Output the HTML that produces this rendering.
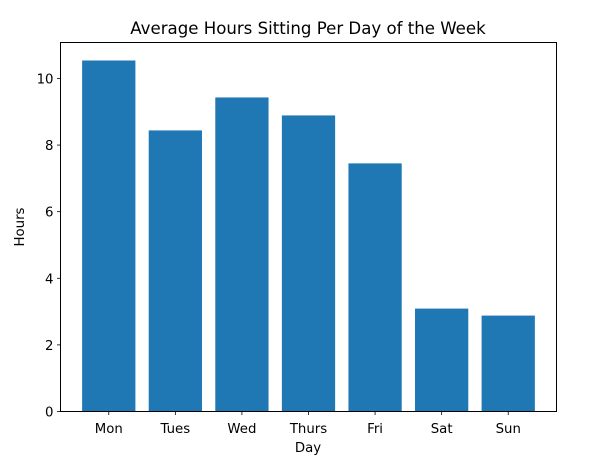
<!DOCTYPE html>
<html><head><meta charset="utf-8"><style>
html,body{margin:0;padding:0;background:#fff;}
svg text{font-family:"DejaVu Sans","Liberation Sans",sans-serif;fill:#000;}
</style></head><body>
<svg id="chart" width="594" height="466" xmlns="http://www.w3.org/2000/svg">
<text x="308" y="34" font-size="16.6" text-anchor="middle">Average Hours Sitting Per Day of the Week</text>
<g id="bars"></g>
<g id="axes"></g>
<rect x="60.5" y="42.5" width="496" height="369" fill="none" stroke="#000" stroke-width="1"/>
<text x="308" y="452" font-size="13.3" text-anchor="middle">Day</text>
<text x="24" y="227" font-size="13.3" text-anchor="middle" transform="rotate(-90 24 227)">Hours</text>
</svg>
<script>
const categories = ["Mon","Tues","Wed","Thurs","Fri","Sat","Sun"];
const hours = [10.54, 8.44, 9.43, 8.89, 7.45, 3.09, 2.88];
const yTicks = [0, 2, 4, 6, 8, 10];
const yTickLabels = ["0","2","4","6","8","10"];

const L=60.5, R=556.5, T=42.5, B=411.5;
const yMax=11.08, xMin=-0.725, xMax=6.725;
const y = v => B - v/yMax*(B-T);
const x = i => L + (i - xMin)/(xMax - xMin)*(R-L);
const bw = 0.8*(R-L)/(xMax-xMin);
const ns="http://www.w3.org/2000/svg";
const bars=document.getElementById('bars'), axes=document.getElementById('axes');
function mk(tag, attrs, parent){const e=document.createElementNS(ns,tag);for(const k in attrs)e.setAttribute(k,attrs[k]);parent.appendChild(e);return e;}
categories.forEach((c,i)=>{
  const r=mk('rect',{x:x(i)-bw/2,y:y(hours[i]),width:bw,height:y(0)-y(hours[i]),fill:'#1f77b4'},bars);
  
  
  const t=mk('line',{x1:x(i),x2:x(i),y1:B,y2:B+3.5,stroke:'#000','stroke-width':0.8},axes);
  
  
  const lb=mk('text',{x:x(i),y:B+21.5,'font-size':13.3,'text-anchor':'middle'},axes);
  lb.textContent=c;
  
  
});
yTicks.forEach((v,i)=>{
  const t=mk('line',{x1:L-3.5,x2:L,y1:y(v),y2:y(v),stroke:'#000','stroke-width':0.8},axes);
  
  
  const lb=mk('text',{x:L-7,y:y(v)+5,'font-size':13.3,'text-anchor':'end'},axes);
  lb.textContent=yTickLabels[i];
  
  
});
</script>
</body></html>
